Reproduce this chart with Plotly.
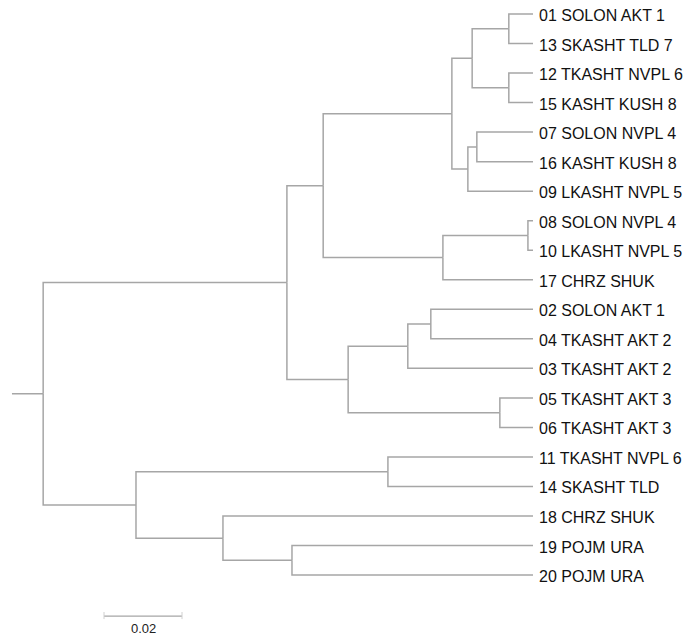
import plotly.graph_objects as go

# Leaf labels, top to bottom
leaf_labels = [
    "01 SOLON AKT 1", "13 SKASHT TLD 7", "12 TKASHT NVPL 6", "15 KASHT KUSH 8",
    "07 SOLON NVPL 4", "16 KASHT KUSH 8", "09 LKASHT NVPL 5", "08 SOLON NVPL 4",
    "10 LKASHT NVPL 5", "17 CHRZ SHUK", "02 SOLON AKT 1", "04 TKASHT AKT 2",
    "03 TKASHT AKT 2", "05 TKASHT AKT 3", "06 TKASHT AKT 3", "11 TKASHT NVPL 6",
    "14 SKASHT TLD", "18 CHRZ SHUK", "19 POJM URA", "20 POJM URA",
]

# Merge table (linkage style): node ids 20+ are internal nodes
merge_left = [0, 2, 20, 4, 23, 22, 7, 26, 25, 10, 29, 13, 30, 28, 15, 18, 17, 34, 33]
merge_right = [1, 3, 21, 5, 6, 24, 8, 9, 27, 11, 12, 14, 31, 32, 16, 19, 35, 36, 37]
merge_height = [0.0062, 0.0062, 0.0156, 0.0144, 0.0167, 0.0208, 0.0013, 0.0231,
                0.0538, 0.0262, 0.0321, 0.0085, 0.0474, 0.0631, 0.0372, 0.0618,
                0.0795, 0.1018, 0.1256]
root_stub_height = 0.1336

scale_bar_length = 0.02
scale_bar_label = "0.02"

n = len(leaf_labels)
node_h = [0.0] * n + merge_height
node_y = list(range(n)) + [0.0] * len(merge_height)
for k, (a, b) in enumerate(zip(merge_left, merge_right)):
    node_y[n + k] = (node_y[a] + node_y[b]) / 2

xs, ys = [], []
for k, (a, b) in enumerate(zip(merge_left, merge_right)):
    h = merge_height[k]
    for c in (a, b):
        xs += [h, h, node_h[c], None]
        ys += [node_y[n + k], node_y[c], node_y[c], None]
root = n + len(merge_height) - 1
xs += [root_stub_height, node_h[root], None]
ys += [node_y[root], node_y[root], None]

line_color = "#a6a6a6"
fig = go.Figure()
fig.add_trace(go.Scatter(x=xs, y=ys, mode="lines",
                         line=dict(color=line_color, width=1.5),
                         hoverinfo="skip", showlegend=False))

# scale bar
sb_start = 0.11
sb_y = 20.39
fig.add_trace(go.Scatter(x=[sb_start, sb_start - scale_bar_length], y=[sb_y, sb_y],
                         mode="lines", line=dict(color=line_color, width=1.2),
                         hoverinfo="skip", showlegend=False))
for xv in (sb_start, sb_start - scale_bar_length):
    fig.add_trace(go.Scatter(x=[xv, xv], y=[sb_y - 0.14, sb_y + 0.1], mode="lines",
                             line=dict(color="#d0d0d0", width=1),
                             hoverinfo="skip", showlegend=False))

annotations = []
for i, lab in enumerate(leaf_labels):
    annotations.append(dict(x=0, y=i + 0.05, text=lab, showarrow=False,
                            xanchor="left", yanchor="middle", xshift=4,
                            font=dict(family="Liberation Sans, Arial", size=16, color="#111111")))
annotations.append(dict(x=sb_start - scale_bar_length / 2, y=21.097, text=scale_bar_label,
                        showarrow=False, xanchor="center", yanchor="bottom", yshift=-1,
                        font=dict(family="Liberation Sans, Arial", size=13, color="#222222")))

fig.update_layout(
    width=684, height=637,
    margin=dict(l=0, r=0, t=0, b=0),
    paper_bgcolor="white", plot_bgcolor="white",
    xaxis=dict(range=[0.13667, -0.03872], visible=False, showgrid=False, zeroline=False),
    yaxis=dict(range=[21.097, -0.474], visible=False, showgrid=False, zeroline=False),
    annotations=annotations,
)
fig.write_html("out.html")
